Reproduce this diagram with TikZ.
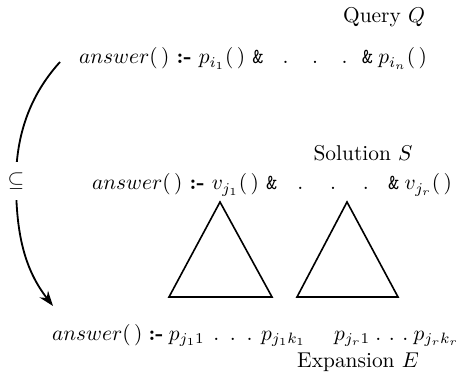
\documentclass[tikz,border=0pt]{standalone}
\usetikzlibrary{arrows.meta}
\newcommand{\nk}{{\bfseries :-}}
\newcommand{\amp}{\texttt{\&}}
\begin{document}
\begin{tikzpicture}[x=0.467pt,y=-0.467pt,
  lbl/.style={inner sep=0pt,outer sep=0pt},
  tri/.style={draw,line width=0.75pt,line join=miter},
  arc/.style={line width=0.85pt,-{Stealth[length=7pt,width=5pt]}}]
\useasboundingbox (0,0) rectangle (456,376);
% titles
\node[lbl,anchor=base] (tq) at (384,23) {Query $Q$};
\node[lbl,anchor=base] (ts) at (363,161) {Solution $S$};
\node[lbl,anchor=base] (te) at (358,367) {Expansion $E$};
% query row
\node[lbl,anchor=base west] (q1) at (79,64) {$answer(\,)$ \nk{} $p_{i_1}(\,)$ \amp};
\node[lbl,anchor=base] (qd) at (315,64) {.\hspace{11pt}.\hspace{11pt}.};
\node[lbl,anchor=base east] (q2) at (427,64) {\amp\hspace{2.5pt}$p_{i_n}(\,)$};
% solution row
\node[lbl,anchor=base west] (s1) at (92,190) {$answer(\,)$ \nk{} $v_{j_1}(\,)$ \amp};
\node[lbl,anchor=base] (sd) at (333,190) {.\hspace{12.5pt}.\hspace{12.5pt}.};
\node[lbl,anchor=base east] (s2) at (452,190) {\amp\hspace{2.5pt}$v_{j_r}(\,)$};
% expansion row
\node[lbl,anchor=base west] (e1) at (52,340) {$answer(\,)$\hspace{2.8pt}\nk\hspace{2.5pt}$p_{j_1 1}$\hspace{4pt}.\hspace{5pt}.\hspace{5pt}.\hspace{4pt}$p_{j_1 k_1}$};
\node[lbl,anchor=base west] (e2) at (334,340) {$p_{j_r 1}$\hspace{2.5pt}.\hspace{3.5pt}.\hspace{3.5pt}.\hspace{2.5pt}$p_{j_r k_r}$};
% triangles
\draw[tri] (220,202) -- (169,297) -- (272,297) -- cycle;
\draw[tri] (347,202) -- (297,297) -- (398,297) -- cycle;
% containment arc
\coordinate (arcS) at (60,62);
\coordinate (arcM) at (16,181);
\coordinate (arcE) at (53,306);
\draw[arc] (arcS) .. controls (30,95) and (16,135) .. (arcM)
  .. controls (16,235) and (25,270) .. (arcE);
\node[lbl,fill=white,inner ysep=5pt,inner xsep=2pt] (sub) at (arcM) {$\subseteq$};
\end{tikzpicture}
\end{document}
